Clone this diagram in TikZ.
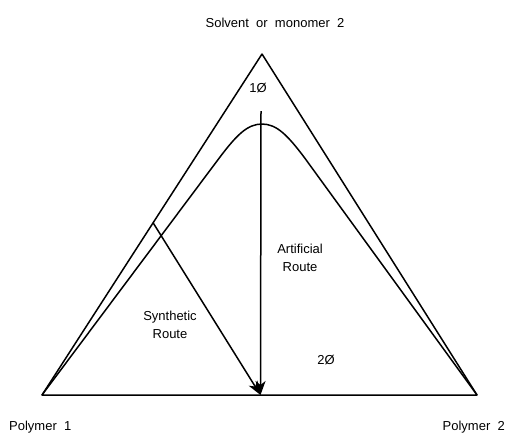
\documentclass[tikz,border=0pt]{standalone}
\usepackage{fontspec}
\setmainfont{Liberation Sans}
\usepackage{tikz}
\usetikzlibrary{arrows.meta,calc}
\tikzset{
  terline/.style={draw=black,line width=1.5pt,line join=round},
  terflow/.style={terline,-{Stealth[length=14pt,width=10pt,inset=4pt]}},
  terlbl/.style={font=\fontsize{13}{18}\selectfont,text=black,inner sep=0pt,align=center},
}

\begin{document}
\begin{tikzpicture}[x=1pt,y=-1pt]
  \useasboundingbox (0,0) rectangle (508,434);
  \coordinate (PA) at (42,395);
  \coordinate (PB) at (477,395);
  \coordinate (SV) at (262,54);
  \coordinate (BM) at (260.5,395);

  % phase diagram frame and binodal
  \draw[terline] (PA) -- (SV) -- (PB) -- cycle;
  \draw[terline] (PA) -- (220,157) .. controls (236,136) and (247,124) .. (262,124)
        .. controls (277,124) and (288,136) .. (304,157) -- (PB);

  \coordinate (ST) at ($(PA)!0.505!(SV)$);
  \coordinate (AT) at (261,111);
  \draw[terflow] (ST) -- (BM);
  \draw[terflow] (AT) -- (BM);

  \node[terlbl] (solv) at (275,23) {Solvent\ \ or\ \ monomer\ \ 2};
  \node[terlbl,anchor=west] (pol1) at (9,427) {Polymer\ \ 1};
  \node[terlbl,anchor=east] (pol2) at (505,427) {Polymer\ \ 2};
  \node[terlbl] (one) at (258,88) {1Ø};
  \node[terlbl] (two) at (326,360) {2Ø};
  \node[terlbl] (art) at (300,258) {Artificial\\Route};
  \node[terlbl] (syn) at (170,325) {Synthetic\\Route};
\end{tikzpicture}
\end{document}
